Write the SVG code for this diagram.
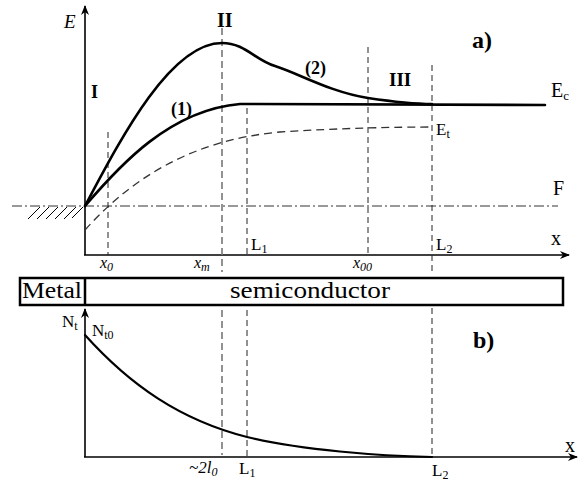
<svg xmlns="http://www.w3.org/2000/svg" width="579" height="485" viewBox="0 0 579 485">
<style>
text{font-family:"Liberation Serif","Times New Roman",serif;fill:#000}
.b{font-weight:bold}
.i{font-style:italic}
.ax{stroke:#000;stroke-width:1.6;fill:none}
.thick{stroke:#000;stroke-width:2.6;fill:none;stroke-linecap:round}
.dash{stroke:#333;stroke-width:1.3;fill:none;stroke-dasharray:8,5}
.vd{stroke:#222;stroke-width:1;fill:none;stroke-dasharray:6,4}
.vg{stroke:#777;stroke-width:1.6;fill:none;stroke-dasharray:7,4}
.dd{stroke:#333;stroke-width:1;fill:none;stroke-dasharray:10,3,2,3}
.hatch{stroke:#000;stroke-width:1}
.box{stroke:#000;stroke-width:2.5;fill:#fff}
</style>
<defs>
<marker id="arr" markerWidth="10" markerHeight="8" refX="9" refY="4" orient="auto" markerUnits="userSpaceOnUse">
<path d="M0,0 L10,4 L0,8 L3,4 Z" fill="#000"/>
</marker>
</defs>

<g id="connectors">
<!-- top axes -->
<line class="ax" x1="85" y1="255" x2="85" y2="6" marker-end="url(#arr)"/>
<line class="ax" x1="84" y1="255" x2="569" y2="255" marker-end="url(#arr)"/>
<!-- Fermi level -->
<line class="dd" x1="12" y1="206" x2="558" y2="206"/>
<!-- hatch -->
<g id="hatch">
<line class="hatch" x1="28" y1="219" x2="40" y2="207"/>
<line class="hatch" x1="37" y1="219" x2="49" y2="207"/>
<line class="hatch" x1="46" y1="219" x2="58" y2="207"/>
<line class="hatch" x1="55" y1="219" x2="67" y2="207"/>
<line class="hatch" x1="64" y1="219" x2="76" y2="207"/>
<line class="hatch" x1="72" y1="218" x2="83" y2="207"/>
</g>
<!-- vertical dashed lines -->
<line class="vd" x1="108" y1="132" x2="108" y2="255"/>
<line class="vg" x1="222" y1="28" x2="222" y2="272"/>
<line class="vg" x1="222" y1="310" x2="222" y2="455"/>
<line class="vd" x1="247" y1="108" x2="247" y2="255"/>
<line class="vd" x1="247" y1="310" x2="247" y2="457"/>
<line class="vd" x1="368" y1="47" x2="368" y2="255"/>
<line class="vd" x1="432" y1="65" x2="432" y2="273"/>
<line class="vd" x1="432" y1="308" x2="432" y2="457"/>
<!-- curves -->
<path id="curve2" class="thick" d="M85,206 C120,140 170,43 222,43 C245,43 255,60 275,66 C300,74 330,92 368,98 C395,102 415,104 432,104"/>
<path id="curve1" class="thick" d="M85,206 C120,165 170,110 240,104 L545,105"/>
<path id="Et" class="dash" d="M85,230 C130,180 190,140 280,132 C340,128 400,127 432,127"/>
<!-- bottom axes -->
<line class="ax" x1="85" y1="457" x2="85" y2="309" marker-end="url(#arr)"/>
<line class="ax" x1="84" y1="457" x2="577" y2="457" marker-end="url(#arr)"/>
<path id="Nt" class="thick" style="stroke-width:2.2" d="M85,335 C130,385 180,420 247,437 C300,450 380,456 432,457"/>
</g>

<g id="node-box">
<rect class="box" x="20" y="278" width="543" height="27"/>
<line class="box" x1="85" y1="278" x2="85" y2="305"/>
<text x="52" y="298" font-size="24" text-anchor="middle" textLength="60" lengthAdjust="spacingAndGlyphs">Metal</text>
<text x="230" y="298" font-size="24" textLength="160" lengthAdjust="spacingAndGlyphs">semiconductor</text>
</g>

<g id="labels">
<text class="i" x="64" y="28" font-size="19">E</text>
<text class="b" x="217" y="27" font-size="20">II</text>
<text class="b" x="91" y="98" font-size="18">I</text>
<text class="b" x="171" y="115" font-size="18">(1)</text>
<text class="b" x="305" y="74" font-size="18">(2)</text>
<text class="b" x="389" y="86" font-size="19">III</text>
<text class="b" x="472" y="48" font-size="24">a)</text>
<text x="551" y="97" font-size="20">E<tspan font-size="13" dy="3">c</tspan></text>
<text x="436" y="135" font-size="17">E<tspan font-size="12" dy="3">t</tspan></text>
<text x="553" y="195" font-size="20">F</text>
<text x="551" y="245" font-size="20">x</text>
<text x="251" y="250" font-size="17">L<tspan font-size="12" dy="3">1</tspan></text>
<text x="436" y="250" font-size="17">L<tspan font-size="12" dy="3">2</tspan></text>
<text class="i" x="100" y="268" font-size="16">x<tspan font-size="12" dy="3">0</tspan></text>
<text class="i" x="194" y="268" font-size="16">x<tspan font-size="12" dy="3">m</tspan></text>
<text class="i" x="353" y="268" font-size="16">x<tspan font-size="12" dy="3">00</tspan></text>
<text x="62" y="327" font-size="17">N<tspan font-size="12" dy="3">t</tspan></text>
<text x="92" y="336" font-size="17">N<tspan font-size="12" dy="3">t0</tspan></text>
<text class="b" x="473" y="348" font-size="24">b)</text>
<text x="565" y="452" font-size="20">x</text>
<text class="i" x="189" y="473" font-size="17">~2l<tspan font-size="12" dy="3">0</tspan></text>
<text x="239" y="474" font-size="17">L<tspan font-size="12" dy="3">1</tspan></text>
<text x="432" y="476" font-size="17">L<tspan font-size="12" dy="3">2</tspan></text>
</g>
</svg>
